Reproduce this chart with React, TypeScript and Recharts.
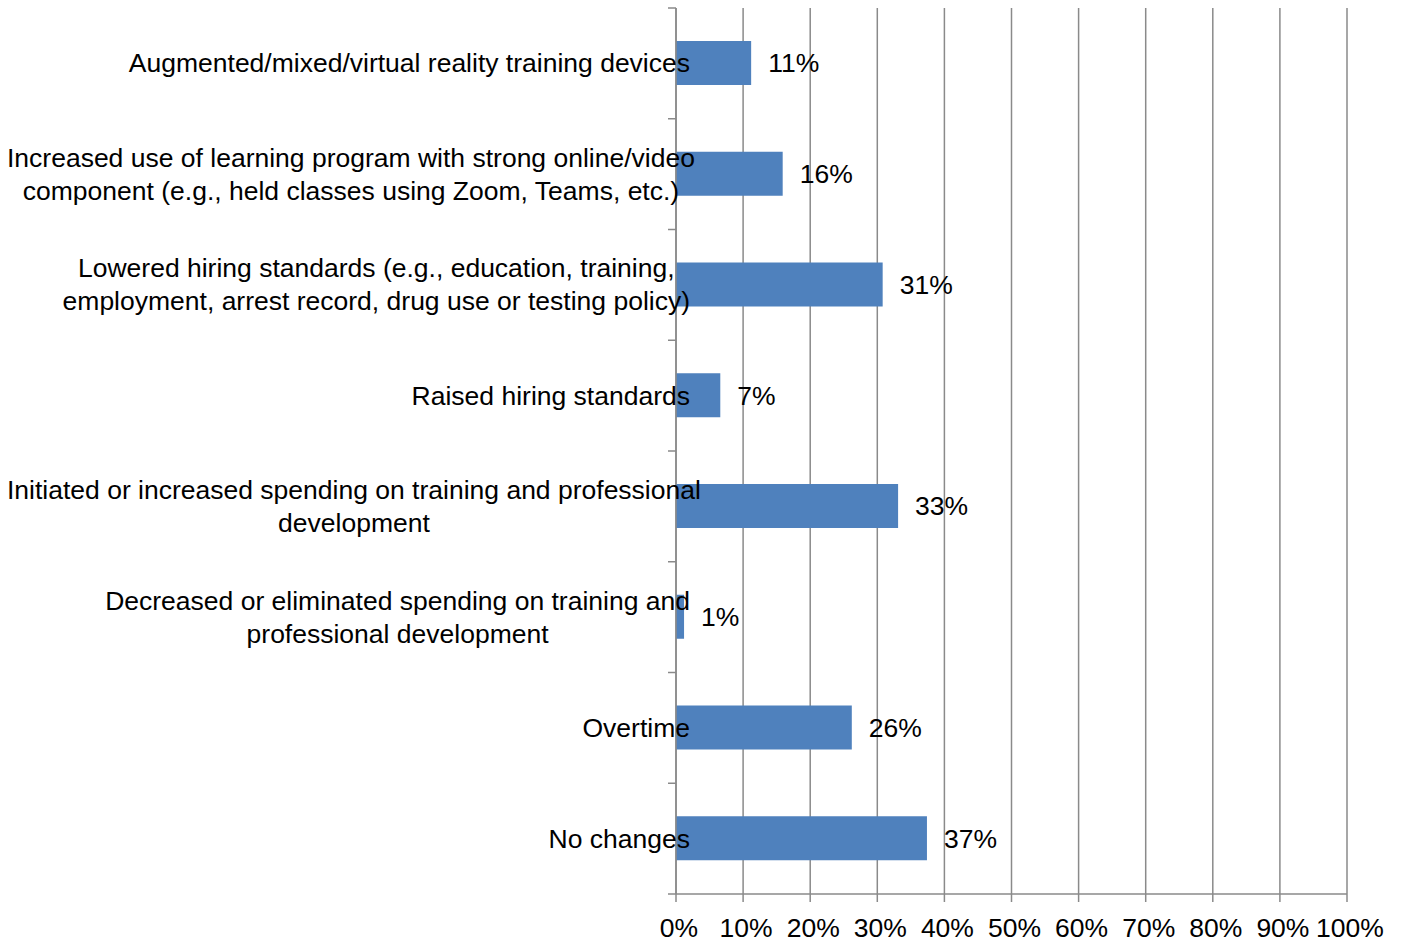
import React from 'react';
import { BarChart, Bar, XAxis, YAxis, CartesianGrid, LabelList } from 'recharts';

const categories: string[][] = [
  ['Augmented/mixed/virtual reality training devices'],
  ['Increased use of learning program with strong online/video', 'component (e.g., held classes using Zoom, Teams, etc.)'],
  ['Lowered hiring standards (e.g., education, training,', 'employment, arrest record, drug use or testing policy)'],
  ['Raised hiring standards'],
  ['Initiated or increased spending on training and professional', 'development'],
  ['Decreased or eliminated spending on training and', 'professional development'],
  ['Overtime'],
  ['No changes'],
];

const values: number[] = [11.2, 15.9, 30.8, 6.6, 33.1, 1.2, 26.2, 37.4];

const xTicks: number[] = [0, 10, 20, 30, 40, 50, 60, 70, 80, 90, 100];

const data = categories.map((lines, i) => ({ name: lines.join('\n'), value: values[i] }));

const FONT = '"Liberation Sans", Arial, sans-serif';
const FS = 26.5;
const GRAY = '#8a8a8a';

let ctx: CanvasRenderingContext2D | null = null;
function measure(t: string): number {
  if (!ctx) {
    const c = document.createElement('canvas');
    ctx = c.getContext('2d');
  }
  if (!ctx) return t.length * FS * 0.5;
  ctx.font = `${FS}px "Liberation Sans", Arial, sans-serif`;
  return ctx.measureText(t).width;
}

const YTick = (props: any) => {
  const { x, y, payload, index } = props;
  const lines = String(payload.value).split('\n');
  const maxW = Math.max(...lines.map(measure));
  const right = x + 22;
  const minLeft = 7;
  const cx = Math.max(right - maxW / 2, minLeft + maxW / 2);
  const lh = 33;
  const off = payload.offset || 0;
  const startY = y - ((lines.length - 1) * lh) / 2;
  return (
    <g>
      <line x1={x} x2={x + 8} y1={y - off} y2={y - off} stroke={GRAY} strokeWidth={1.5} />
      {index === data.length - 1 && (
        <line x1={x} x2={x + 8} y1={y + off} y2={y + off} stroke={GRAY} strokeWidth={1.5} />
      )}
      {lines.map((l, i) => (
        <text
          key={i}
          x={cx}
          y={startY + i * lh}
          textAnchor="middle"
          dominantBaseline="central"
          fontSize={FS}
          fontFamily={FONT}
          fill="#000"
        >
          {l}
        </text>
      ))}
    </g>
  );
};

export default function App() {
  return (
    <div style={{ position: 'absolute', left: 0, top: 0, background: '#fff' }}>
      <BarChart
        width={1404}
        height={945}
        data={data}
        layout="vertical"
        margin={{ top: 8, right: 57, bottom: 0, left: 0 }}
      >
        <CartesianGrid horizontal={false} vertical={true} stroke={GRAY} strokeWidth={1.5} />
        <XAxis
          type="number"
          domain={[0, 100]}
          ticks={xTicks}
          interval={0}
          tickFormatter={(v: number) => `${v}%`}
          axisLine={{ stroke: GRAY, strokeWidth: 1.5 }}
          tickLine={{ stroke: GRAY, strokeWidth: 1.5 }}
          tickSize={8}
          tickMargin={16}
          height={51}
          tick={{ fontSize: FS, fontFamily: FONT, fill: '#000', dx: 3 }}
        />
        <YAxis
          type="category"
          dataKey="name"
          width={676}
          interval={0}
          axisLine={{ stroke: GRAY, strokeWidth: 1.5 }}
          tickLine={false}
          tickSize={8}
          tickMargin={0}
          tick={<YTick />}
        />
        <Bar dataKey="value" fill="#4F81BD" barSize={44} isAnimationActive={false}>
          <LabelList
            dataKey="value"
            position="right"
            offset={17}
            formatter={(v: any) => `${Math.round(Number(v))}%`}
            style={{ fontSize: FS, fontFamily: FONT, fill: '#000' }}
          />
        </Bar>
      </BarChart>
    </div>
  );
}
